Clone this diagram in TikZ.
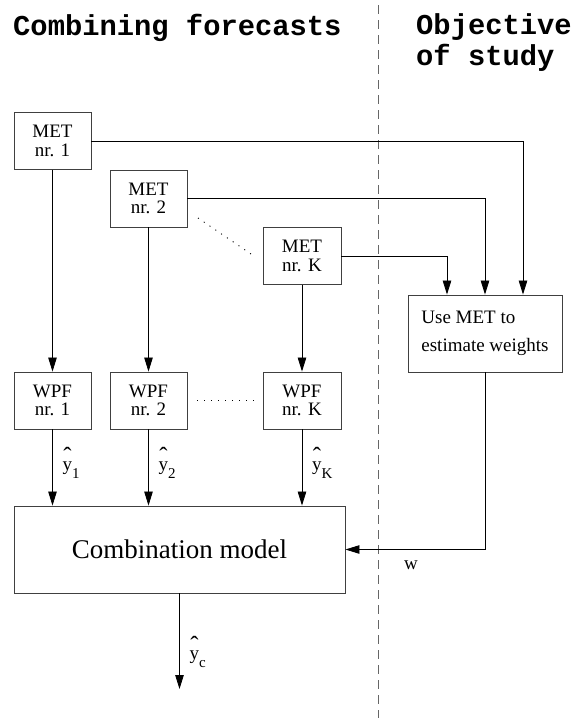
\documentclass[tikz,border=0pt]{standalone}
\usepackage{fontspec}
\setmainfont{Liberation Serif}
\newfontfamily\titlefont{Liberation Mono}
\usetikzlibrary{arrows.meta}
\begin{document}
\begin{tikzpicture}[x=1pt,y=-1pt,
  box/.style={draw=black!75,line width=0.9pt,inner sep=0pt,align=center,
    font=\fontsize{19}{18.5}\selectfont},
  smallbox/.style={box,minimum width=77pt,minimum height=57pt},
  conn/.style={line width=0.8pt,-{Triangle[length=14pt,width=8.5pt]}},
  dotline/.style={line width=0.9pt,dash pattern=on 1pt off 6pt},
  ttl/.style={font=\titlefont\bfseries\fontsize{28.8}{31}\selectfont,inner sep=0pt,anchor=base west},
  lab/.style={font=\fontsize{19}{19}\selectfont,inner sep=0pt},
  ylab/.style={lab,anchor=base west}
]
\useasboundingbox (0,0) rectangle (581,718);
\newcommand{\yhat}[1]{\ooalign{y\cr\hidewidth\raisebox{0.3em}{\scalebox{1.3}{ˆ}}\hidewidth\cr}\raisebox{-0.47em}{\fontsize{15}{15}\selectfont #1}}

% titles
\node[ttl] (t1) at (13,35) {Combining forecasts};
\node[ttl] (t2) at (416,34) {Objective};
\node[ttl] (t3) at (416,65) {of study};

% divider
\coordinate (dtop) at (378,5);
\coordinate (dbot) at (378,718);
\draw[black!60,line width=0.9pt,dash pattern=on 9pt off 6pt] (dtop) -- (dbot);

% MET boxes
\node[smallbox] (m1) at (52.5,141) {MET\\nr. 1};
\node[smallbox] (m2) at (148.5,198.5) {MET\\nr. 2};
\node[smallbox,minimum width=78pt] (mk) at (302,256) {MET\\nr. K};

% WPF boxes
\node[smallbox] (w1) at (52.5,400.5) {WPF\\nr. 1};
\node[smallbox] (w2) at (148.5,400.5) {WPF\\nr. 2};
\node[smallbox,minimum width=78pt] (wk) at (302,400.5) {WPF\\nr. K};

% Use MET box
\node[box,minimum width=154pt,minimum height=77pt,align=left,
  font=\fontsize{19}{28.5}\selectfont] (use) at (485,333.5) {Use MET to\\estimate weights};

% combination box
\node[box,minimum width=331pt,minimum height=87pt,font=\fontsize{27}{27}\selectfont] (comb) at (179.5,549.5) {Combination model};

% vertical MET -> WPF
\draw[conn] (m1.south) -- (w1.north);
\draw[conn] (m2.south) -- (w2.north);
\draw[conn] (mk.south) -- (wk.north);

% MET -> Use MET
\coordinate (u1) at ([xshift=38pt]use.north);
\coordinate (u2) at (use.north);
\coordinate (uk) at ([xshift=-38pt]use.north);
\draw[conn] (m1.east) -| (u1);
\draw[conn] (m2.east) -| (u2);
\draw[conn] (mk.east) -| (uk);

% WPF -> combination
\draw[conn] (w1.south) -- (w1.south |- comb.north);
\draw[conn] (w2.south) -- (w2.south |- comb.north);
\draw[conn] (wk.south) -- (wk.south |- comb.north);

% weights
\draw[conn] (use.south) |- (comb.east);
\node[lab] (wl) at (411,565) {w};

% output
\coordinate (out) at (179.5,689);
\draw[conn] (comb.south) -- (out);

% yhat labels
\node[ylab] (y1) at (62.5,470) {\yhat{1}};
\node[ylab] (y2) at (158.5,470) {\yhat{2}};
\node[ylab] (yk) at (312,470) {\yhat{K}};
\node[ylab] (yc) at (189.5,659) {\yhat{c}};

% dotted lines
\coordinate (d1a) at (198,218);
\coordinate (d1b) at (251,254);
\draw[dotline] (d1a) -- (d1b);
\coordinate (d2a) at (197,400);
\coordinate (d2b) at (254,400);
\draw[dotline] (d2a) -- (d2b);
\end{tikzpicture}
\end{document}
